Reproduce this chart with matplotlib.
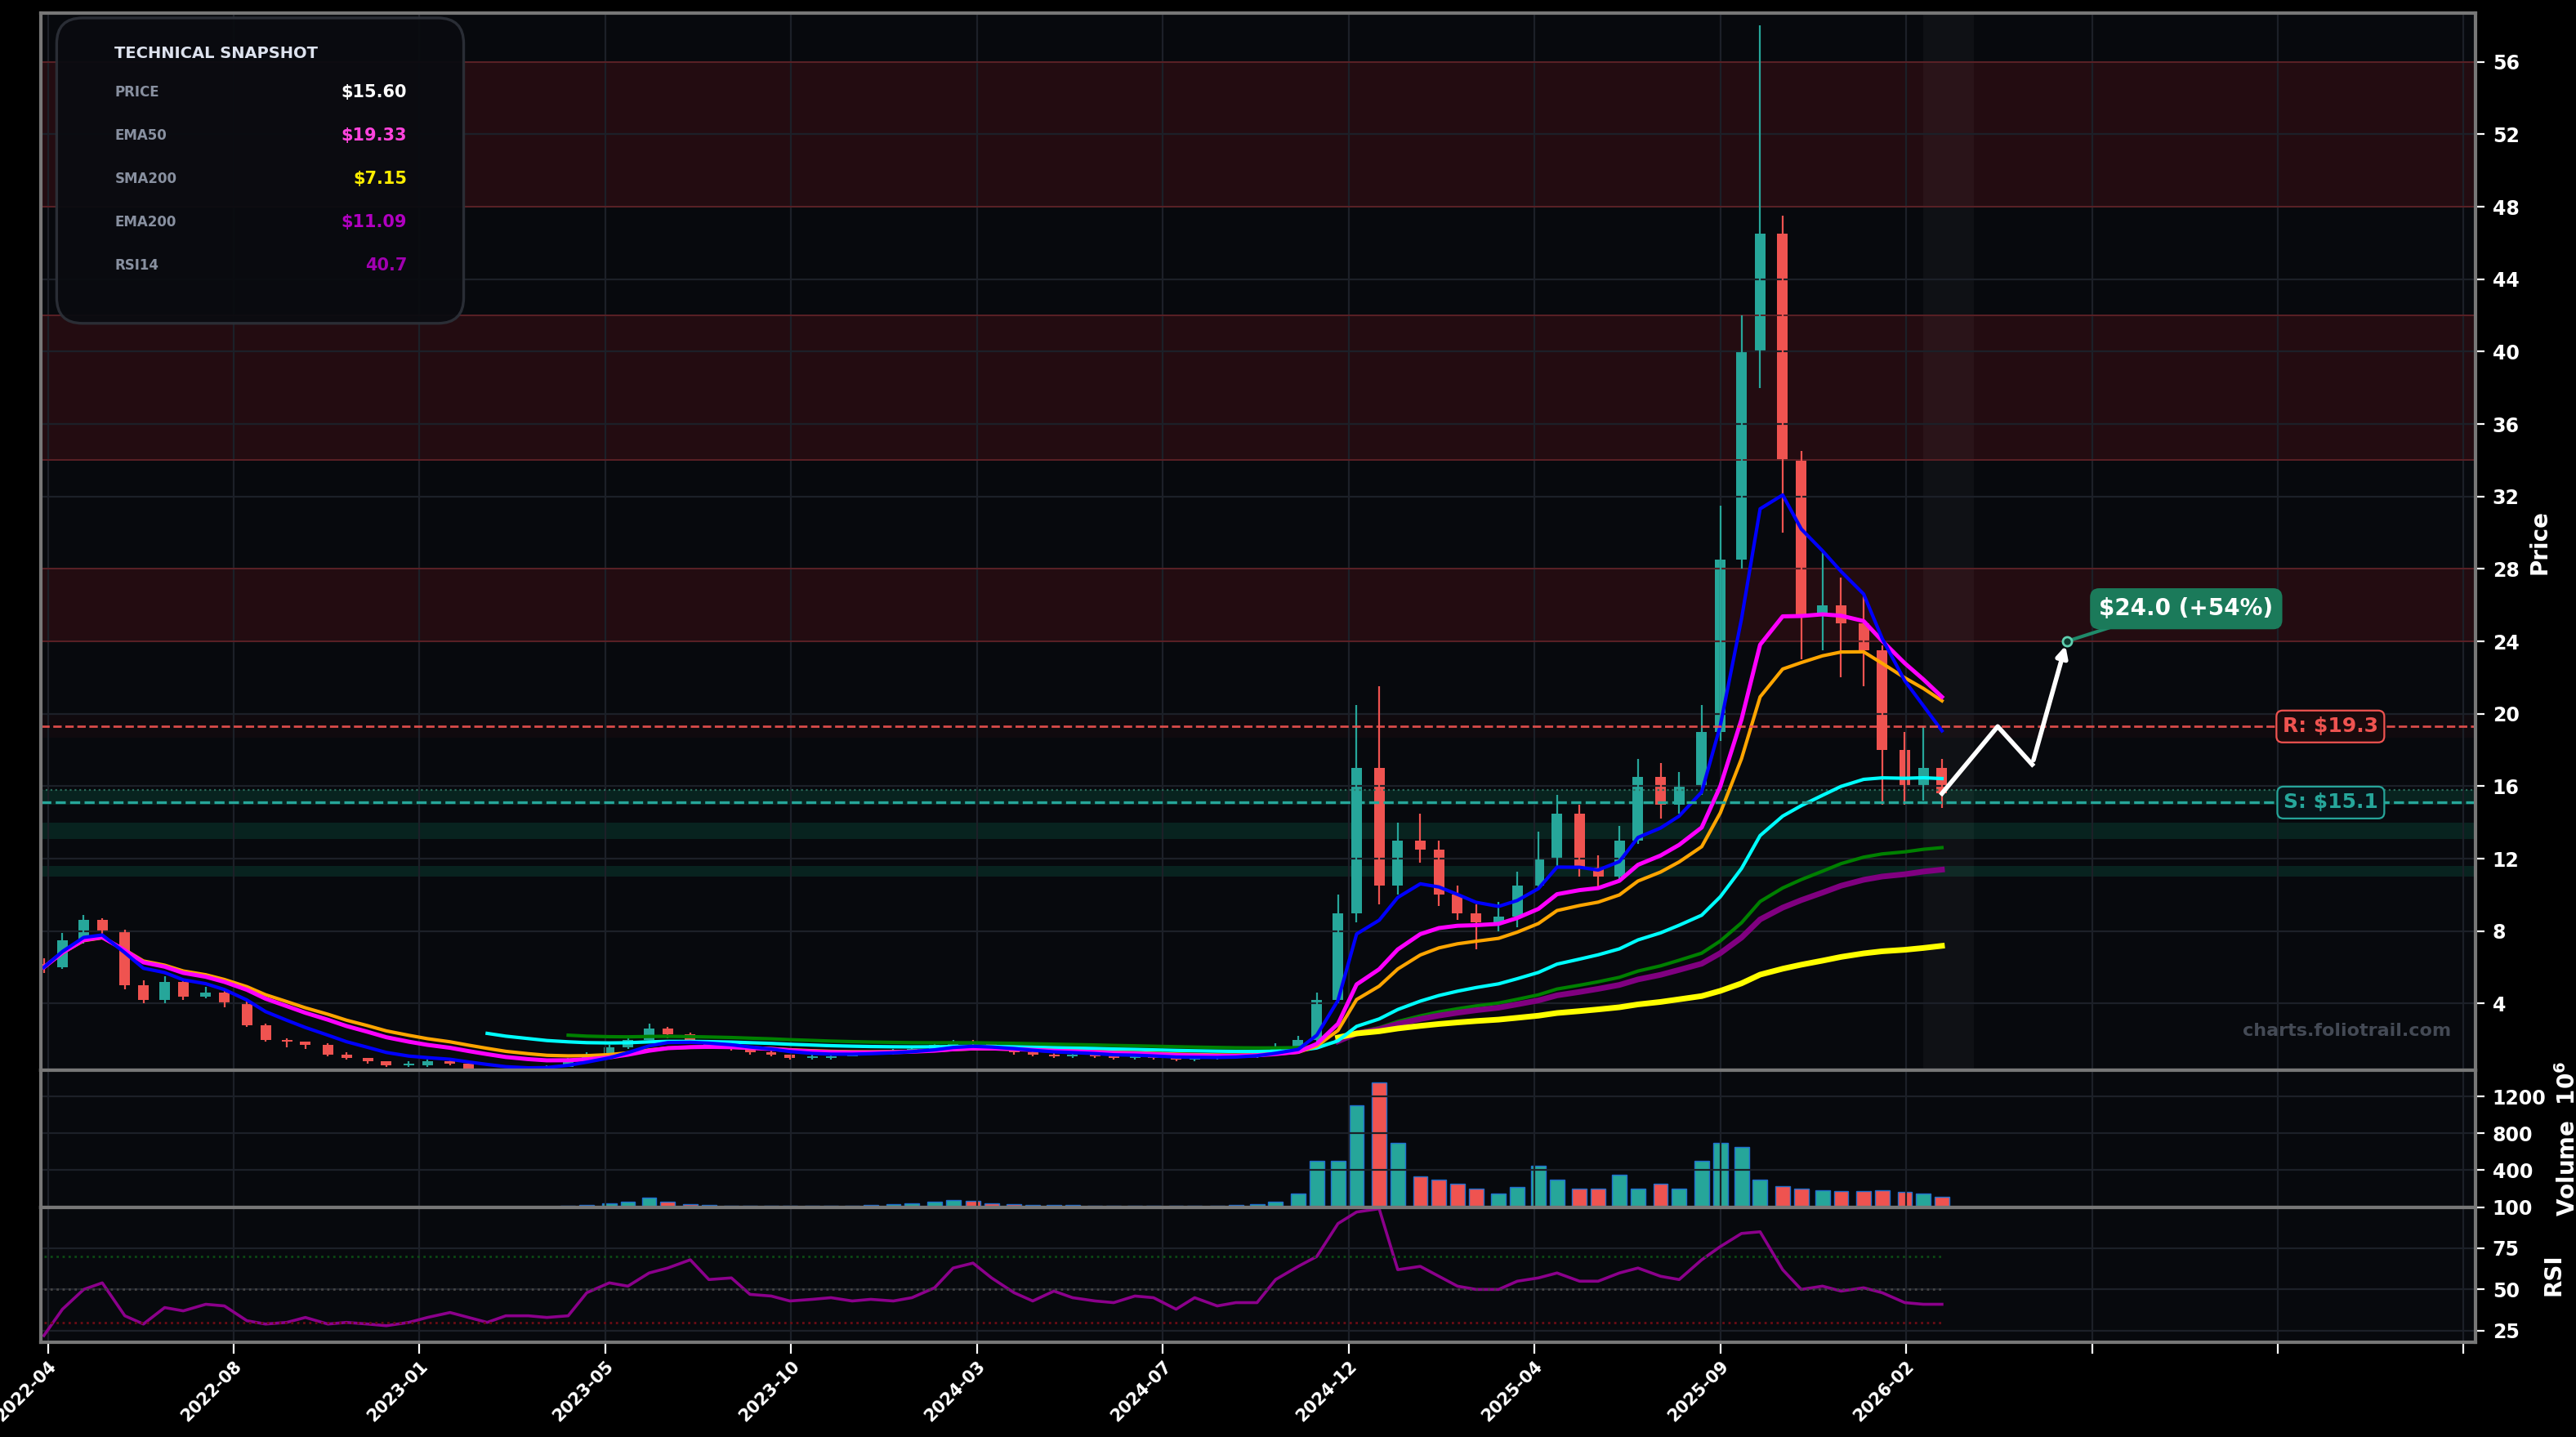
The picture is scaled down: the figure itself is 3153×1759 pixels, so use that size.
import numpy as np
import pandas as pd
import matplotlib.pyplot as plt
from matplotlib.patches import FancyBboxPatch

# semi-monthly candles, 2022-04 .. 2026-03
closes = [6.0, 7.5, 8.6, 8.0, 5.0, 4.2, 5.2, 4.4, 4.6, 4.0, 2.8, 2.0, 1.9, 1.7, 1.2, 1.0, 0.8, 0.6,
          0.6, 0.8, 0.7, 0.4, 0.3, 0.2, 0.3, 0.5, 0.9, 1.2, 1.6, 2.0, 2.6, 2.3, 1.9, 1.7, 1.5, 1.3,
          1.2, 1.0, 1.0, 1.1, 1.2, 1.3,
          1.4, 1.5, 1.7, 1.9, 1.8, 1.5, 1.3, 1.2, 1.1, 1.2, 1.1, 1.0, 1.1, 1.0, 0.9, 1.0, 1.0, 1.1,
          1.3, 1.6, 2.0, 4.2, 9.0, 17.0,
          10.5, 13.0, 12.5, 10.0, 9.0, 8.5, 8.8, 10.5, 12.0, 14.5, 11.5, 11.0, 13.0, 16.5, 15.0, 16.0,
          19.0, 28.5, 40.0, 46.5, 34.0, 25.5, 26.0, 25.0,
          23.5, 18.0, 16.0, 17.0, 15.6]
highs = [6.5, 7.9, 8.9, 8.7, 8.1, 5.3, 5.5, 5.3, 4.9, 4.7, 4.1, 2.9, 2.1, 1.9, 1.8, 1.3, 1.0, 0.8,
         0.8, 0.9, 0.9, 0.8, 0.4, 0.3, 0.4, 0.6, 1.0, 1.3, 1.7, 2.2, 2.9, 2.7, 2.4, 2.0, 1.8, 1.6,
         1.4, 1.2, 1.2, 1.2, 1.3, 1.4,
         1.5, 1.6, 1.8, 2.0, 2.0, 1.9, 1.6, 1.4, 1.3, 1.3, 1.3, 1.2, 1.2, 1.2, 1.1, 1.1, 1.1, 1.2,
         1.4, 1.8, 2.2, 4.6, 10.0, 20.5,
         21.5, 14.0, 14.5, 13.0, 10.5, 9.5, 9.6, 11.3, 13.5, 15.5, 15.0, 12.2, 13.8, 17.5, 17.3, 16.8,
         20.5, 31.5, 42.0, 58.0, 47.5, 34.5, 29.0, 27.5,
         26.5, 23.8, 19.0, 19.3, 17.5]
lows = [5.7, 5.9, 7.3, 7.7, 4.8, 4.0, 4.0, 4.2, 4.3, 3.8, 2.7, 1.9, 1.6, 1.5, 1.1, 0.9, 0.7, 0.5,
        0.5, 0.5, 0.6, 0.4, 0.2, 0.1, 0.2, 0.3, 0.5, 0.8, 1.1, 1.5, 2.0, 2.1, 1.8, 1.6, 1.4, 1.2,
        1.1, 0.9, 0.9, 0.9, 1.1, 1.2,
        1.2, 1.3, 1.4, 1.6, 1.7, 1.4, 1.2, 1.1, 1.0, 1.0, 1.0, 0.9, 0.9, 0.9, 0.8, 0.8, 0.9, 1.0,
        1.0, 1.2, 1.5, 1.9, 4.0, 8.5,
        9.5, 10.0, 11.8, 9.4, 8.6, 7.0, 8.0, 8.2, 10.3, 11.5, 11.0, 10.3, 10.8, 12.8, 14.2, 14.5,
        15.5, 18.5, 28.0, 38.0, 30.0, 23.0, 23.5, 22.0,
        21.5, 15.0, 15.0, 15.2, 14.8]
volume = [5, 5, 6, 5, 6, 5, 5, 4, 4, 4, 6, 4, 4, 4, 4, 4, 4, 5,
          5, 4, 4, 5, 6, 5, 6, 8, 12, 20, 40, 60, 100, 60, 30, 20, 15, 15, 12, 12, 10, 12, 15, 20,
          30, 40, 60, 80, 70, 40, 30, 25, 20, 20, 15, 15, 15, 15, 12, 12, 15, 20, 30, 60, 150, 500,
          500, 1100,
          1350, 700, 330, 300, 250, 200, 150, 220, 450, 300, 200, 200, 350, 200, 250, 200, 500, 700,
          650, 300, 230, 200, 180, 170,
          170, 180, 160, 150, 110]
rsi = [22, 38, 50, 54, 34, 29, 39, 37, 41, 40, 31, 29, 30, 33, 29, 30, 29, 28, 30, 33, 36, 33, 30,
       34, 34, 33, 34, 48, 54, 52, 60, 63, 68, 56, 57, 47, 46, 43, 44, 45, 43, 44, 43, 45, 51, 63,
       66, 57, 48, 43, 49, 45, 43, 42, 46, 45, 38, 45, 40, 42, 42, 56, 64, 70, 90, 97, 99, 62, 64,
       58, 52, 50, 50, 55, 57, 60, 55, 55, 60, 63, 58, 56, 68, 76, 84, 85, 62, 50, 52, 49, 51, 48,
       42, 41, 41]

dates = pd.date_range("2022-04-01", periods=len(closes), freq="SMS")
c = pd.Series(closes, index=dates)
opens = [6.2] + closes[:-1]

resist_zones = [(48, 56), (34, 42), (24, 28)]
support_zones = [(15.0, 15.8), (13.1, 14.0), (11.0, 11.6)]
r_level, s_level = 19.3, 15.1
proj_dates = pd.to_datetime(["2026-03-01", "2026-04-12", "2026-05-08", "2026-06-03"])
proj_vals = [15.6, 19.3, 17.2, 24.0]
tick_dates = pd.date_range("2022-04-04", periods=14, freq="140D")
snap_labels = ["PRICE", "EMA50", "SMA200", "EMA200", "RSI14"]
snap_values = ["$15.60", "$19.33", "$7.15", "$11.09", "40.7"]
snap_colors = ["white", "#ff44dd", "#ffee00", "#b000c0", "#a000b0"]

BG = "#07090d"
GRID = "#1c2028"
plt.rcParams["font.family"] = ["DejaVu Sans"]
plt.rcParams["font.weight"] = "bold"

fig = plt.figure(figsize=(15.765, 8.795), dpi=200, facecolor="black")
ax = fig.add_axes([0.016, 0.255, 0.945, 0.736])
axv = fig.add_axes([0.016, 0.160, 0.945, 0.095], sharex=ax)
axr = fig.add_axes([0.016, 0.066, 0.945, 0.094], sharex=ax)

for a in (ax, axv, axr):
    a.set_facecolor(BG)
    a.grid(True, color=GRID, lw=0.8)
    a.yaxis.tick_right()
    a.yaxis.set_label_position("right")
    a.tick_params(colors="white", labelsize=8.5, length=4)
    for s in a.spines.values():
        s.set_color("#777777")
        s.set_linewidth(1.5)

# zones
for lo, hi in resist_zones:
    ax.axhspan(lo, hi, color="#8b1a22", alpha=0.22, lw=0)
    ax.axhline(lo, color="#5a2025", lw=0.7)
    ax.axhline(hi, color="#5a2025", lw=0.7)
ax.axhspan(18.7, 20.0, color="#8b1a22", alpha=0.07, lw=0)
for lo, hi in support_zones:
    ax.axhspan(lo, hi, color="#0e6a50", alpha=0.28, lw=0)
ax.axhline(15.8, color="#2a6a5a", lw=0.8, ls=":")
ax.axvspan(pd.Timestamp("2026-02-15"), pd.Timestamp("2026-03-25"), color="white", alpha=0.035, lw=0)

# candles
up = np.array(closes) >= np.array(opens)
col = np.where(up, "#26a69a", "#ef5350")
ax.vlines(dates, lows, highs, colors=col, lw=0.8)
body_lo = np.minimum(opens, closes)
body_h = np.maximum(np.abs(np.array(closes) - np.array(opens)), 0.08)
ax.bar(dates, body_h, bottom=body_lo, width=8, color=col, lw=0)

# moving averages
idx = np.arange(len(c))
blue = c.ewm(span=6).mean()
mag = c.ewm(span=12).mean()
ora = c.ewm(span=16).mean()
cya = c.ewm(span=38).mean().where(idx >= 22)
grn = c.ewm(span=70).mean().where(idx >= 26)
pur = c.ewm(span=90).mean().where(idx >= 64)
yel = c.rolling(90, min_periods=60).mean().where(idx >= 64)
ax.plot(dates, grn, color="green", lw=1.5)
ax.plot(dates, pur, color="purple", lw=2.5)
ax.plot(dates, yel, color="yellow", lw=2.5)
ax.plot(dates, cya, color="cyan", lw=1.5)
ax.plot(dates, ora, color="orange", lw=1.5)
ax.plot(dates, mag, color="magenta", lw=1.8)
ax.plot(dates, blue, color="blue", lw=1.5)

# levels
ax.axhline(r_level, color="#ef5350", lw=1, ls="--", alpha=0.9)
ax.axhline(s_level, color="#26a69a", lw=1.2, ls="--")
ax.text(0.96, r_level, f"R: ${r_level}", transform=ax.get_yaxis_transform(), ha="right", va="center",
        color="#ef5350", fontsize=9,
        bbox=dict(boxstyle="round,pad=0.3", fc="#1a0a0c", ec="#ef5350", lw=0.8))
ax.text(0.96, s_level, f"S: ${s_level}", transform=ax.get_yaxis_transform(), ha="right", va="center",
        color="#26a69a", fontsize=9,
        bbox=dict(boxstyle="round,pad=0.3", fc="#07151a", ec="#26a69a", lw=0.8))

# projection
ax.plot(proj_dates[:-1], proj_vals[:-1], color="white", lw=2)
ax.annotate("", xy=(proj_dates[-1], proj_vals[-1]), xytext=(proj_dates[-2], proj_vals[-2]),
            arrowprops=dict(arrowstyle="-|>", color="white", lw=2))
ax.plot([proj_dates[-1], pd.Timestamp("2026-08-10")], [proj_vals[-1], 25.6], color="#1f8a6a", lw=1.5)
ax.plot(proj_dates[-1], proj_vals[-1], "o", ms=4, mfc="#0e3a30", mec="#5fd0b0")
ax.text(pd.Timestamp("2026-09-01"), 25.8, "$24.0 (+54%)", color="white", fontsize=10, ha="center",
        va="center", bbox=dict(boxstyle="round,pad=0.35", fc="#1b7a5a", ec="#1b7a5a"))

ax.text(0.99, 0.03, "charts.foliotrail.com", transform=ax.transAxes, ha="right", va="bottom",
        color="#444a55", fontsize=8)
ax.set_ylim(0.3, 58.7)
ax.set_yticks(np.arange(4, 57, 4))
ax.set_yticks(np.arange(2, 58, 2), minor=True)
ax.set_ylabel("Price", color="white", fontsize=10, fontweight="bold")

# volume
axv.bar(dates, volume, width=11, color=col, edgecolor="#1f6fd0", lw=0.5)
axv.set_ylim(0, 1480)
axv.set_yticks([400, 800, 1200])
axv.set_yticks([200, 600, 1000, 1400], minor=True)
axv.set_ylabel("Volume  $10^6$", color="white", fontsize=10, fontweight="bold")

# rsi
axr.plot(dates, rsi, color="#8b008b", lw=1.3)
axr.plot([dates[0], dates[-1]], [70, 70], color="#0c4a14", lw=1, ls=":")
axr.plot([dates[0], dates[-1]], [30, 30], color="#6a0c14", lw=1, ls=":")
axr.plot([dates[0], dates[-1]], [50, 50], color="#444444", lw=1, ls=":")
axr.set_ylim(18, 100)
axr.set_yticks([25, 50, 75, 100])
axr.set_yticks([37.5, 62.5, 87.5], minor=True)
axr.set_ylabel("RSI", color="white", fontsize=10, fontweight="bold")

axr.set_xticks(tick_dates)
axr.set_xticklabels([d.strftime("%Y-%m") if i < 11 else "" for i, d in enumerate(tick_dates)],
                    rotation=45, ha="right", rotation_mode="anchor", fontsize=7.5)
axr.set_xticks(tick_dates[:-1] + pd.Timedelta(days=70), minor=True)
axr.tick_params(axis="x", which="major", length=5, pad=2)
axr.tick_params(axis="x", which="minor", length=3)
ax.set_xlim(pd.Timestamp("2022-03-30"), pd.Timestamp("2027-04-07"))
plt.setp(ax.get_xticklabels(), visible=False)
plt.setp(axv.get_xticklabels(), visible=False)
for a in (ax, axv):
    a.tick_params(axis="x", length=0)

# snapshot box
fig.patches.append(FancyBboxPatch((0.022, 0.775), 0.158, 0.2125, boxstyle="round,pad=0,rounding_size=0.01",
                                  transform=fig.transFigure, fc="#0a0b10", ec="#2c3038", lw=1.2,
                                  alpha=0.95, mutation_aspect=1.79))
fig.text(0.0445, 0.9625, "TECHNICAL SNAPSHOT", color="#dde2ee", fontsize=7, va="center")
for k, (lab, val, cc) in enumerate(zip(snap_labels, snap_values, snap_colors)):
    y = 0.936 - k * 0.0302
    fig.text(0.0445, y, lab, color="#8890a0", fontsize=6, va="center")
    fig.text(0.158, y, val, color=cc, fontsize=7.5, va="center", ha="right")

fig.savefig("out.png", dpi=200, facecolor="black")
